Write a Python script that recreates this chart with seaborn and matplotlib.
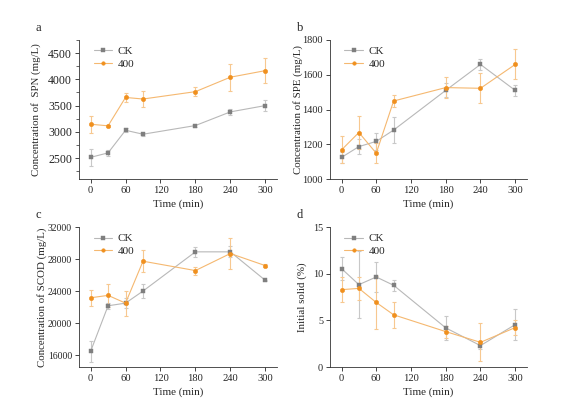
import numpy as np
import pandas as pd
import matplotlib
matplotlib.use("Agg")
import matplotlib.pyplot as plt
from matplotlib.ticker import AutoMinorLocator
import seaborn as sns

# sampling times (min)
time = [0, 30, 60, 90, 180, 240, 300]

# a: SPN (mg/L)
spn_ck = [2515, 2600, 3030, 2955, 3120, 3380, 3500]
spn_ck_err = [160, 60, 35, 30, 25, 55, 100]
spn_400 = [3145, 3115, 3655, 3625, 3765, 4040, 4165]
spn_400_err = [160, 25, 80, 155, 80, 255, 240]

# b: SPE (mg/L)
spe_ck = [1125, 1187, 1217, 1282, 1510, 1659, 1510]
spe_ck_err = [30, 42, 48, 73, 40, 33, 30]
spe_400 = [1168, 1268, 1149, 1449, 1526, 1522, 1659]
spe_400_err = [78, 92, 57, 37, 60, 86, 86]

# c: SCOD (mg/L)
scod_ck = [16460, 22160, 22490, 24000, 28900, 28900, 25340]
scod_ck_err = [1300, 400, 600, 880, 600, 700, 100]
scod_400 = [23160, 23460, 22490, 27730, 26560, 28690, 27180]
scod_400_err = [1000, 1400, 1550, 1340, 500, 1950, 150]

# d: initial solid (%)
ts_ck = [10.55, 8.83, 9.65, 8.76, 4.2, 2.3, 4.55]
ts_ck_err = [1.2, 3.6, 1.6, 0.6, 1.25, 0.4, 1.7]
ts_400 = [8.29, 8.43, 6.92, 5.6, 3.8, 2.65, 4.23]
ts_400_err = [1.35, 1.25, 2.8, 1.4, 0.65, 2.05, 0.8]

panels = [
    ("a", "Concentration of  SPN (mg/L)", spn_ck, spn_ck_err, spn_400, spn_400_err,
     (2100, 4750), [2500, 3000, 3500, 4000, 4500]),
    ("b", "Concentration of SPE (mg/L)", spe_ck, spe_ck_err, spe_400, spe_400_err,
     (1000, 1800), [1000, 1200, 1400, 1600, 1800]),
    ("c", "Concentration of SCOD (mg/L)", scod_ck, scod_ck_err, scod_400, scod_400_err,
     (14500, 32000), [16000, 20000, 24000, 28000, 32000]),
    ("d", "Initial solid (%)", ts_ck, ts_ck_err, ts_400, ts_400_err,
     (0, 15), [0, 5, 10, 15]),
]

# per-panel look (the source panels were scaled a bit differently)
ytick_size = {"a": 8.6, "b": 7.4, "c": 7.0, "d": 7.4}
ylabel_x = {"a": -0.19, "b": -0.135, "c": -0.16, "d": -0.115}

sns.set_style("ticks")
plt.rcParams['font.family'] = ['Liberation Serif', 'DejaVu Serif']
plt.rcParams['font.size'] = 8

colors = {"CK": "#7f7f7f", "400": "#f0901e"}
line_colors = {"CK": "#b8b8b8", "400": "#f5b870"}
err_colors = {"CK": "#c8c8c8", "400": "#f7c890"}
markers = {"CK": "s", "400": "o"}

fig = plt.figure(figsize=(5.64, 3.99), dpi=100)
boxes = [
    [0.140, 0.551, 0.351, 0.349],
    [0.585, 0.551, 0.349, 0.349],
    [0.140, 0.080, 0.351, 0.351],
    [0.585, 0.080, 0.349, 0.351],
]

for box, (tag, ylab, ck, ck_err, t4, t4_err, ylim, yticks) in zip(boxes, panels):
    ax = fig.add_axes(box)
    df = pd.DataFrame({
        "Time": time * 2,
        "value": ck + t4,
        "err": ck_err + t4_err,
        "group": ["CK"] * len(time) + ["400"] * len(time),
    })
    for g in ["CK", "400"]:
        sub = df[df["group"] == g]
        ax.errorbar(sub["Time"], sub["value"], yerr=sub["err"], fmt="none",
                    ecolor=err_colors[g], elinewidth=0.8, capsize=1.5, capthick=0.8, zorder=1)
        sns.lineplot(data=sub, x="Time", y="value", ax=ax, color=line_colors[g],
                     linewidth=0.8, marker=markers[g], markersize=3.2,
                     markerfacecolor=colors[g], markeredgecolor=colors[g],
                     markeredgewidth=0.3, label=g, zorder=2)
    ax.set_xlim(-20, 320)
    ax.set_xticks([0, 60, 120, 180, 240, 300])
    ax.set_ylim(*ylim)
    ax.set_yticks(yticks)
    if tag == "a":
        ax.yaxis.set_minor_locator(AutoMinorLocator(2))
        ax.tick_params(axis="y", which="minor", length=2, width=0.5)
    ax.set_xlabel("Time (min)", fontsize=8, labelpad=3)
    ax.set_ylabel(ylab, fontsize=7.8)
    ax.yaxis.set_label_coords(ylabel_x[tag], 0.5)
    ax.tick_params(axis="x", labelsize=7.6, length=3, width=0.6, pad=2)
    ax.tick_params(axis="y", which="major", labelsize=ytick_size[tag], length=3, width=0.6, pad=2)
    for s in ["left", "bottom"]:
        ax.spines[s].set_linewidth(0.6)
        ax.spines[s].set_color("#333333")
    sns.despine(ax=ax)
    leg = ax.legend(loc="upper left", frameon=False, fontsize=8,
                    handlelength=1.7, handletextpad=0.5, borderaxespad=0.2,
                    labelspacing=0.25, bbox_to_anchor=(0.04, 1.0))
    for h in leg.legend_handles:
        h.set_markersize(2.6)
    ax.text(-0.22 if tag in "ac" else -0.17, 1.04, tag, transform=ax.transAxes,
            fontsize=9, ha="left", va="bottom")

fig.savefig("out.png", dpi=100)
